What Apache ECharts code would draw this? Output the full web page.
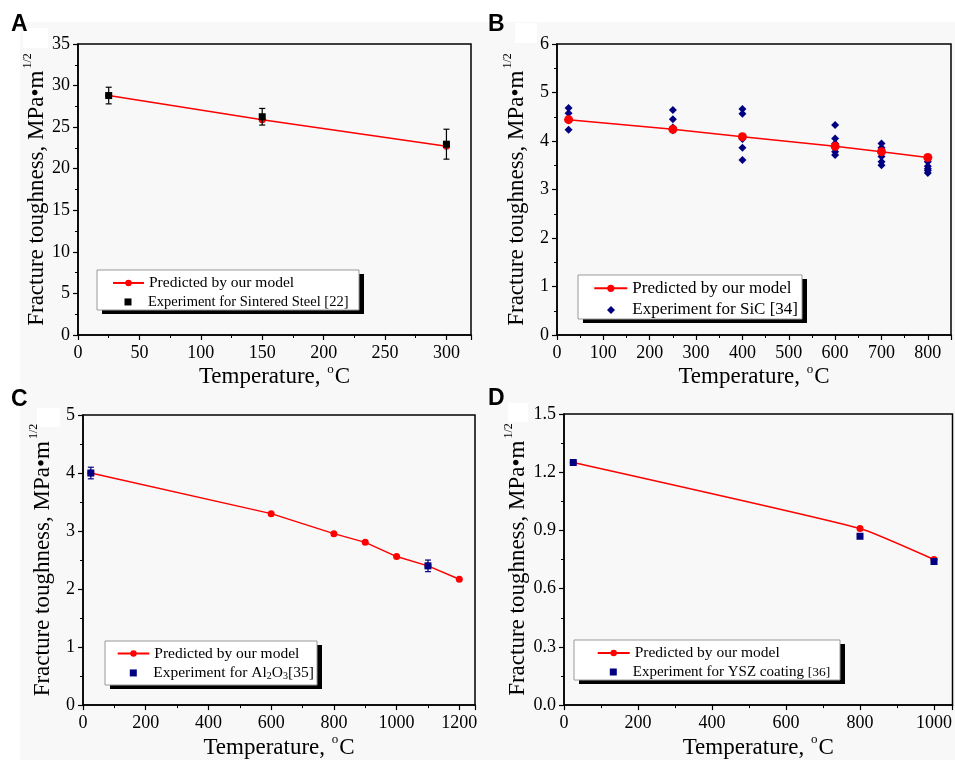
<!DOCTYPE html>
<html><head><meta charset="utf-8">
<script src="https://cdn.jsdelivr.net/npm/echarts@6/dist/echarts.min.js"></script>
<style>html,body{margin:0;padding:0;background:#fff}#c{width:955px;height:760px}</style>
</head><body><div id="c"></div>
<script>
// ---------- Panel A: Sintered steel ----------
const tempA = [25, 150, 300];
const predA = [28.8, 25.9, 22.7];
const expA = [28.8, 26.25, 22.95];
const errA = [1.0, 1.0, 1.8];

// ---------- Panel B: SiC ----------
const tempB = [25, 250, 400, 600, 700, 800];
const predB = [4.44, 4.24, 4.09, 3.89, 3.78, 3.66];
const expBTemp = [25, 25, 25, 25, 250, 250, 250, 250, 400, 400, 400, 400, 400,
  600, 600, 600, 600, 600, 600, 700, 700, 700, 700, 700, 700, 800, 800, 800, 800, 800];
const expBVal = [4.68, 4.57, 4.45, 4.23, 4.64, 4.45, 4.28, 4.22, 4.66, 4.56, 4.04, 3.86, 3.61,
  4.33, 4.05, 3.95, 3.86, 3.78, 3.71, 3.95, 3.86, 3.77, 3.68, 3.57, 3.50, 3.57, 3.48, 3.43, 3.39, 3.34];

// ---------- Panel C: Al2O3 ----------
const tempC = [25, 600, 800, 900, 1000, 1100, 1200];
const predC = [4.0, 3.30, 2.955, 2.805, 2.56, 2.40, 2.17];
const expCTemp = [25, 1100];
const expCVal = [4.0, 2.40];
const errC = [0.1, 0.1];

// ---------- Panel D: YSZ coating ----------
const tempD = [25, 800, 1000];
const predD = [1.25, 0.91, 0.75];
const expDTemp = [25, 800, 1000];
const expDVal = [1.25, 0.87, 0.74];

const namePred = 'Predicted by our model';
const nameA = 'Experiment for Sintered Steel [22]';
const nameB = 'Experiment for SiC [34]';
const nameC = 'Experiment for Al2O3[35]';
const nameD = 'Experiment for YSZ coating [36]';

const SERIF = '"Liberation Serif","Times New Roman",serif';
const RED = '#ff0000';
const NAVY = '#000080';

const grids = [
  {left: 78, top: 44, width: 393, height: 291},
  {left: 557, top: 44, width: 394, height: 291},
  {left: 83, top: 415, width: 392, height: 292},
  {left: 564, top: 414, width: 393, height: 292}
].map(g => Object.assign({show: true, borderColor: '#000', borderWidth: 1.5, backgroundColor: 'transparent'}, g));

function xAx(i, min, max, interval) {
  return {
    type: 'value', gridIndex: i, min, max, interval,
    name: '{a|Temperature, }{s|o}{a|C}', nameLocation: 'middle', nameGap: 24,
    nameTextStyle: {color: '#000', fontFamily: SERIF, fontSize: 23,
      rich: {a: {fontFamily: SERIF, fontSize: 23, color: '#000'},
             s: {fontFamily: SERIF, fontSize: 13, color: '#000', padding: [0, 1, 16, 1]}}},
    axisLine: {show: true, lineStyle: {color: '#000', width: 1.5}},
    axisTick: {show: true, inside: false, length: 5, lineStyle: {color: '#000', width: 1.2}},
    minorTick: {show: true, splitNumber: 2, length: 3, lineStyle: {color: '#000', width: 1}},
    splitLine: {show: false},
    axisLabel: {color: '#000', fontFamily: SERIF, fontSize: 18, margin: 9, showMaxLabel: false,
      formatter: v => String(v)}
  };
}
function yAx(i, min, max, interval, dec) {
  return {
    type: 'value', gridIndex: i, min, max, interval,
    name: '{a|Fracture toughness, MPa•m}{s|1/2}', nameLocation: 'middle', nameGap: 25, nameRotate: 90,
    nameTextStyle: {color: '#000', fontFamily: SERIF, fontSize: 23,
      rich: {a: {fontFamily: SERIF, fontSize: 23, color: '#000'},
             s: {fontFamily: SERIF, fontSize: 12, color: '#000', padding: [0, 0, 18, 2]}}},
    axisLine: {show: true, lineStyle: {color: '#000', width: 1.5}},
    axisTick: {show: true, inside: false, length: 5, lineStyle: {color: '#000', width: 1.2}},
    minorTick: {show: true, splitNumber: 2, length: 3, lineStyle: {color: '#000', width: 1}},
    splitLine: {show: false},
    axisLabel: {color: '#000', fontFamily: SERIF, fontSize: 18, margin: 8,
      formatter: v => dec ? v.toFixed(dec) : String(v)}
  };
}

function predSeries(i, xs, ys, size, smooth) {
  return {
    name: namePred, type: 'line', xAxisIndex: i, yAxisIndex: i,
    data: xs.map((x, k) => [x, ys[k]]),
    symbol: 'circle', symbolSize: size, smooth: smooth,
    lineStyle: {color: RED, width: 1.5}, itemStyle: {color: RED}, z: 3, animation: false
  };
}
function errSeries(i, xs, ys, es, color) {
  return {
    type: 'custom', xAxisIndex: i, yAxisIndex: i, z: 4, animation: false,
    data: xs.map((x, k) => [x, ys[k], es[k]]),
    renderItem: (params, api) => {
      const x = api.value(0), y = api.value(1), e = api.value(2);
      const t = api.coord([x, y + e]), b = api.coord([x, y - e]);
      const st = {stroke: color, lineWidth: 1.2};
      return {type: 'group', children: [
        {type: 'line', shape: {x1: t[0], y1: t[1], x2: b[0], y2: b[1]}, style: st},
        {type: 'line', shape: {x1: t[0] - 3, y1: t[1], x2: t[0] + 3, y2: t[1]}, style: st},
        {type: 'line', shape: {x1: b[0] - 3, y1: b[1], x2: b[0] + 3, y2: b[1]}, style: st}
      ]};
    }
  };
}
function expSeries(i, name, xs, ys, symbol, size, color, z) {
  return {
    name, type: 'scatter', xAxisIndex: i, yAxisIndex: i, symbol, symbolSize: size,
    data: xs.map((x, k) => [x, ys[k]]), itemStyle: {color, opacity: 1}, z, animation: false
  };
}

// one legend per entry; (left, centerY) of the icon, font size, icon size, extra text offset
function legendItem(name, left, cy, fontSize, iw, ih, textPad) {
  return {
    orient: 'vertical', left, top: cy - fontSize / 2, padding: 0, itemWidth: iw, itemHeight: ih,
    data: [name], selectedMode: false, z: 10,
    formatter: n => {
      if (n === nameC) return '{f|Experiment for Al}{b|2}{n|O}{b|3}{n|[35]}';
      if (n === nameD) return '{f|Experiment for YSZ coating }{m|[36]}';
      return '{f|' + n + '}';
    },
    textStyle: {color: '#000', fontFamily: SERIF, fontSize,
      rich: {f: {fontFamily: SERIF, fontSize, color: '#000', padding: [0, 0, 0, textPad]},
             n: {fontFamily: SERIF, fontSize, color: '#000'},
             m: {fontFamily: SERIF, fontSize: fontSize - 1.5, color: '#000'},
             b: {fontFamily: SERIF, fontSize: 10, color: '#000', padding: [7, 0, 0, 0]}}}
  };
}
function legendBox(x, y, w, h) {
  return [
    {type: 'rect', z: 1, silent: true, shape: {x: x + 5, y: y + 4, width: w, height: h}, style: {fill: '#000'}},
    {type: 'rect', z: 2, silent: true, shape: {x, y, width: w, height: h}, style: {fill: '#fff', stroke: '#999', lineWidth: 1}}
  ];
}

const bgFill = '#f8f8f8';
const labelFont = 'bold 23px "Liberation Sans", Arial, sans-serif';
const option = {
  backgroundColor: '#fff',
  animation: false,
  grid: grids,
  xAxis: [xAx(0, 0, 320, 50), xAx(1, 0, 850, 100), xAx(2, 0, 1250, 200), xAx(3, 0, 1050, 200)],
  yAxis: [yAx(0, 0, 35, 5, 0), yAx(1, 0, 6, 1, 0), yAx(2, 0, 5, 1, 0), yAx(3, 0, 1.5, 0.3, 1)],
  legend: [
    legendItem(namePred, 112, 282.7, 15.5, 31, 8, 0),
    legendItem(nameA, 124.5, 301.7, 14.5, 7, 7, 11.5),
    legendItem(namePred, 593.3, 288.3, 17, 33, 9, 0),
    legendItem(nameB, 607, 310, 17, 8, 8, 12.3),
    legendItem(namePred, 116.7, 653.3, 15.5, 31.6, 8, 0),
    legendItem(nameC, 129.8, 672.7, 15.5, 7, 7, 11.4),
    legendItem(namePred, 596.7, 652.7, 15.5, 32, 8, 0),
    legendItem(nameD, 609.8, 672, 15, 7, 7, 11)
  ],
  graphic: [
    {type: 'rect', shape: {x: 20, y: 22, width: 935, height: 738}, style: {fill: bgFill}, z: -10, silent: true},
    {type: 'rect', shape: {x: 23, y: 28, width: 25, height: 20}, style: {fill: '#fff'}, z: -9, silent: true},
    {type: 'rect', shape: {x: 515, y: 23, width: 22, height: 20}, style: {fill: '#fff'}, z: -9, silent: true},
    {type: 'rect', shape: {x: 37, y: 408, width: 23, height: 19}, style: {fill: '#fff'}, z: -9, silent: true},
    {type: 'rect', shape: {x: 508, y: 403, width: 20, height: 19}, style: {fill: '#fff'}, z: -9, silent: true},
    ...legendBox(97, 270, 262, 40),
    ...legendBox(578, 275, 224, 44),
    ...legendBox(105, 641, 212, 44),
    ...legendBox(574, 640, 266, 40),
    {type: 'text', left: 11, top: 13, style: {text: 'A', font: labelFont, fill: '#000'}},
    {type: 'text', left: 488, top: 13, style: {text: 'B', font: labelFont, fill: '#000'}},
    {type: 'text', left: 11, top: 388, style: {text: 'C', font: labelFont, fill: '#000'}},
    {type: 'text', left: 488, top: 387, style: {text: 'D', font: labelFont, fill: '#000'}}
  ],
  series: [
    predSeries(0, tempA, predA, 7, false),
    errSeries(0, tempA, expA, errA, '#000'),
    expSeries(0, nameA, tempA, expA, 'rect', 7, '#000', 5),

    expSeries(1, nameB, expBTemp, expBVal, 'diamond', 8, NAVY, 2),
    predSeries(1, tempB, predB, 9, false),

    predSeries(2, tempC, predC, 7, false),
    errSeries(2, expCTemp, expCVal, errC, NAVY),
    expSeries(2, nameC, expCTemp, expCVal, 'rect', 7, NAVY, 5),

    predSeries(3, tempD, predD, 7, 0.15),
    expSeries(3, nameD, expDTemp, expDVal, 'rect', 7, NAVY, 5)
  ]
};
const chart = echarts.init(document.getElementById('c'), null, {renderer: 'canvas'});
chart.setOption(option);
</script></body></html>
